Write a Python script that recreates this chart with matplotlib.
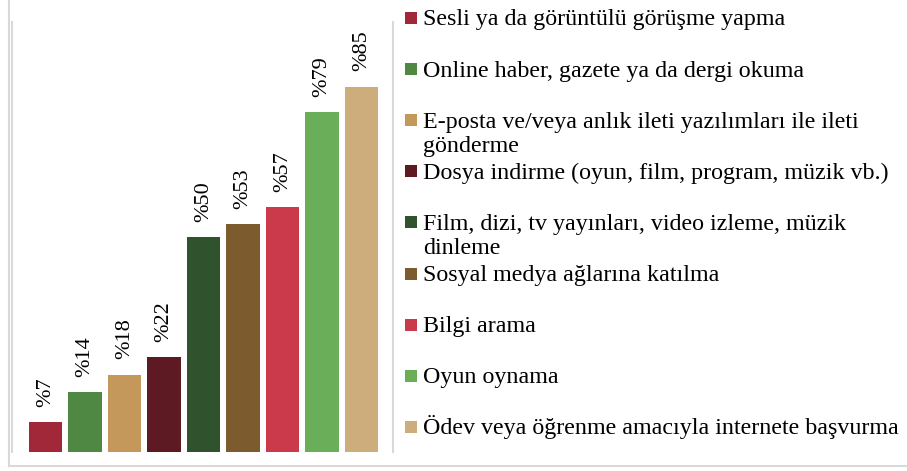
import matplotlib
matplotlib.use("Agg")
import matplotlib.pyplot as plt
from matplotlib.lines import Line2D
from matplotlib.patches import Rectangle

plt.rcParams['font.family'] = ['Liberation Serif', 'DejaVu Serif']

categories = [
    "Sesli ya da görüntülü görüşme yapma",
    "Online haber, gazete ya da dergi okuma",
    "E-posta ve/veya anlık ileti yazılımları ile ileti\ngönderme",
    "Dosya indirme (oyun, film, program, müzik vb.)",
    "Film, dizi, tv yayınları, video izleme, müzik\ndinleme",
    "Sosyal medya ağlarına katılma",
    "Bilgi arama",
    "Oyun oynama",
    "Ödev veya öğrenme amacıyla internete başvurma",
]
values = [7, 14, 18, 22, 50, 53, 57, 79, 85]
value_labels = ["%7", "%14", "%18", "%22", "%50", "%53", "%57", "%79", "%85"]
colors = ["#A02838", "#4E8842", "#C4975A", "#5E1A22", "#30522C",
          "#7C5C2E", "#CA3A4A", "#6AAE5A", "#CEAD7C"]

W, H = 907, 471
fig = plt.figure(figsize=(W / 100, H / 100), dpi=100)

ax = fig.add_axes([12 / W, (H - 452) / H, (393 - 12) / W, (452 - 22) / H])
x = list(range(len(values)))
bars = ax.bar(x, values, width=0.84, color=colors)
ax.set_xlim(-0.848, 8.797)
ax.set_ylim(0, 100)
for s in ["top", "bottom"]:
    ax.spines[s].set_visible(False)
for s in ["left", "right"]:
    ax.spines[s].set_color("#D9D9D9")
    ax.spines[s].set_linewidth(1.5)
ax.set_xticks([])
ax.set_yticks([])

for b, lab in zip(bars, value_labels):
    ax.annotate(lab, (b.get_x() + b.get_width() / 2, b.get_height()),
                xytext=(0, 11), textcoords="offset points",
                rotation=90, ha="center", va="bottom", fontsize=16)

# legend drawn manually
fs = 17.3
step = 51.1
for i, (lab, c) in enumerate(zip(categories, colors)):
    yc = 18 + i * step
    fig.add_artist(Rectangle((405 / W, (H - yc - 6) / H), 12 / W, 12 / H,
                             transform=fig.transFigure, color=c, lw=0))
    for j, line in enumerate(lab.split("\n")):
        yb = yc + 7.5 + j * 24
        fig.text(423 / W, (H - yb) / H, line, fontsize=fs, va="baseline",
                 ha="left", color="black")

# outer frame
fig.add_artist(Line2D([9 / W, 9 / W], [(H - 466) / H, 1], transform=fig.transFigure,
                      color="#D9D9D9", lw=1.5))
fig.add_artist(Line2D([9 / W, 1], [(H - 466) / H, (H - 466) / H], transform=fig.transFigure,
                      color="#D9D9D9", lw=1.5))

fig.savefig("out.png", dpi=100)
